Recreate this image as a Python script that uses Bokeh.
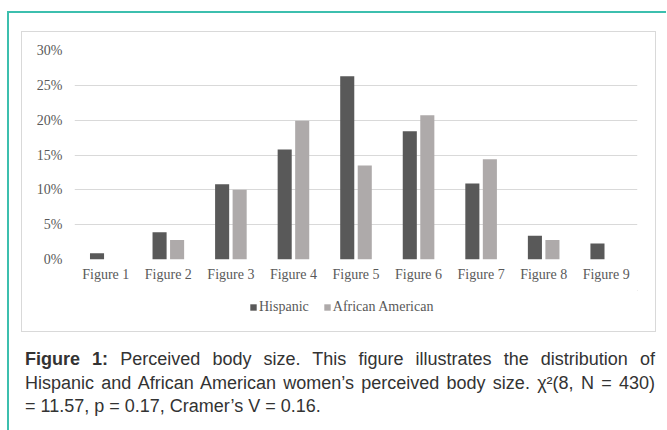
from bokeh.plotting import figure
from bokeh.layouts import column
from bokeh.models import (ColumnDataSource, FactorRange, Range1d, FixedTicker,
                          NumeralTickFormatter, Legend, LegendItem, Div)
from bokeh.transform import dodge
from bokeh.embed import file_html
from bokeh.resources import INLINE

# ---------------- data ----------------
categories = ["Figure 1", "Figure 2", "Figure 3", "Figure 4", "Figure 5",
              "Figure 6", "Figure 7", "Figure 8", "Figure 9"]
hispanic = [0.009, 0.039, 0.108, 0.158, 0.263, 0.184, 0.109, 0.034, 0.023]
african_american = [0.0, 0.028, 0.100, 0.199, 0.135, 0.207, 0.144, 0.028, 0.0]
y_ticks = [0.0, 0.05, 0.10, 0.15, 0.20, 0.25, 0.30]
series_names = ["Hispanic", "African American"]
series_colors = ["#595959", "#aeaaaa"]

caption_line1_bold = "Figure 1:"
caption_line1 = "Perceived body size. This figure illustrates the distribution of"
caption_line2 = "Hispanic and African American women\u2019s perceived body size. \u03c7\u00b2(8, N = 430)"
caption_line3 = "= 11.57, p = 0.17, Cramer\u2019s V = 0.16."

# ---------------- chart ----------------
p = figure(x_range=FactorRange(factors=categories), y_range=Range1d(0, 0.30),
           width=633, height=258, output_backend="svg", toolbar_location=None,
           min_border_left=52, min_border_right=18, min_border_top=18, min_border_bottom=31)
p.outline_line_color = None
p.background_fill_color = "white"
p.border_fill_color = "white"

p.xgrid.grid_line_color = None
p.ygrid.grid_line_color = "#d9d9d9"
p.ygrid.grid_line_width = 1

p.yaxis.ticker = FixedTicker(ticks=y_ticks)
p.yaxis.formatter = NumeralTickFormatter(format="0%")
for ax in (p.xaxis[0], p.yaxis[0]):
    ax.axis_line_color = None
    ax.major_tick_line_color = None
    ax.minor_tick_line_color = None
    ax.major_tick_out = 0
    ax.major_tick_in = 0
    ax.major_label_text_font = "Liberation Serif"
    ax.major_label_text_font_size = "14px"
    ax.major_label_text_color = "#595959"
p.yaxis.major_label_standoff = 12
p.xaxis.major_label_standoff = 7

src = ColumnDataSource(dict(cat=categories, hispanic=hispanic, aa=african_american))
p.vbar(x=dodge("cat", -0.14, range=p.x_range), top="hispanic", width=0.225,
       source=src, fill_color=series_colors[0], line_color=None)
p.vbar(x=dodge("cat", 0.14, range=p.x_range), top="aa", width=0.225,
       source=src, fill_color=series_colors[1], line_color=None)

# ---------------- legend strip (below the plot area) ----------------
# keys only: one swatch item per series, kept outside the visible range
lg = figure(width=633, height=41, x_range=Range1d(0, 1), y_range=Range1d(0, 1),
            output_backend="svg", toolbar_location=None, min_border=0,
            x_axis_location=None, y_axis_location=None)
lg.outline_line_color = None
lg.xgrid.visible = False
lg.ygrid.visible = False
key_src = ColumnDataSource(dict(x=[5.0], top=[5.0], bottom=[4.0]))
lr1 = lg.vbar(x="x", top="top", bottom="bottom", width=0.1, source=key_src,
              fill_color=series_colors[0], line_color=None)
lr2 = lg.vbar(x="x", top="top", bottom="bottom", width=0.1, source=key_src,
              fill_color=series_colors[1], line_color=None)
legend = Legend(items=[LegendItem(label=series_names[0], renderers=[lr1]),
                       LegendItem(label=series_names[1], renderers=[lr2])],
                orientation="horizontal", location=(175, 16),
                glyph_width=8, glyph_height=8, label_standoff=2, spacing=14,
                padding=0, margin=0, label_height=16,
                background_fill_alpha=0, border_line_color=None,
                label_text_font="Liberation Serif", label_text_font_size="14px",
                label_text_color="#595959")
lg.add_layout(legend)

chart_box = column(p, lg, margin=(18, 0, 0, 12),
                   styles={"border": "1px solid #d9d9d9"})

# ---------------- caption ----------------
line_style = "white-space:nowrap;text-align:justify;text-align-last:justify;"
caption_html = (
    '<div style="font-family:\'Liberation Sans\';font-size:18px;line-height:23.5px;'
    'color:#333333;width:630px;">'
    f'<div style="{line_style}"><b>{caption_line1_bold}</b> {caption_line1}</div>'
    f'<div style="{line_style}">{caption_line2}</div>'
    f'<div style="white-space:nowrap;text-align:left;">{caption_line3}</div>'
    '</div>'
)
caption = Div(text=caption_html, width=641, height=82, margin=(16, 0, 0, 16))

layout = column(chart_box, caption, margin=(11, 0, 0, 7),
                styles={"border-top": "2px solid #3cbfae", "border-left": "2px solid #3cbfae"})

open("out.html", "w").write(file_html(layout, INLINE))
